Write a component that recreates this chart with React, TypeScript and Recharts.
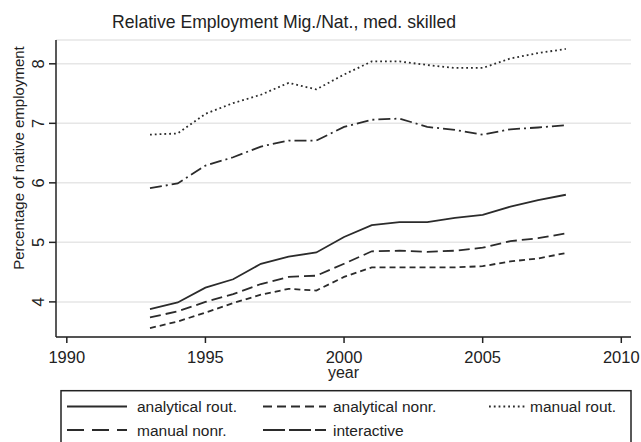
import { CartesianGrid, Label, Line, LineChart, XAxis, YAxis } from "recharts";

const years = [1993, 1994, 1995, 1996, 1997, 1998, 1999, 2000, 2001, 2002, 2003, 2004, 2005, 2006, 2007, 2008];
const analyticalRout = [3.88, 3.99, 4.24, 4.38, 4.64, 4.76, 4.83, 5.09, 5.29, 5.34, 5.34, 5.41, 5.46, 5.6, 5.71, 5.8];
const analyticalNonr = [3.56, 3.67, 3.82, 3.98, 4.12, 4.22, 4.19, 4.42, 4.58, 4.58, 4.58, 4.58, 4.6, 4.68, 4.73, 4.82];
const manualRout = [6.81, 6.83, 7.16, 7.34, 7.48, 7.68, 7.57, 7.82, 8.04, 8.04, 7.98, 7.93, 7.93, 8.09, 8.18, 8.25];
const manualNonr = [3.74, 3.84, 4.0, 4.13, 4.3, 4.42, 4.44, 4.64, 4.85, 4.86, 4.84, 4.86, 4.91, 5.02, 5.07, 5.15];
const interactive = [5.91, 5.99, 6.29, 6.43, 6.61, 6.71, 6.71, 6.94, 7.06, 7.08, 6.94, 6.89, 6.81, 6.9, 6.93, 6.97];

const xTicks = [1990, 1995, 2000, 2005, 2010];
const yTicks = [4, 5, 6, 7, 8];

const seriesNames = ["analytical rout.", "analytical nonr.", "manual rout.", "manual nonr.", "interactive"];
const seriesKeys = ["analyticalRout", "analyticalNonr", "manualRout", "manualNonr", "interactive"];

const data = years.map((year, i) => ({
  year,
  analyticalRout: analyticalRout[i],
  analyticalNonr: analyticalNonr[i],
  manualRout: manualRout[i],
  manualNonr: manualNonr[i],
  interactive: interactive[i],
}));

// line patterns, plot and legend sample
const lineDash = ["", "6 4", "1.8 3", "11 5", "12 4 2 4"];
const legendDash = ["", "9 5", "1.8 3", "17 8", "22 4"];
// legend slots: [sampleX1, sampleX2, textX, rowY]
const legendSlots = [
  [67, 127, 137, 22.5],
  [263, 326, 333, 22.5],
  [489, 525, 530, 22.5],
  [67, 127, 137, 46],
  [263, 326, 333, 46],
];

const font = "'Liberation Sans', Arial, sans-serif";
const ink = "#222";
const lineInk = "#2b2b2b";

const YTick = (props: any) => {
  const { x, y, payload } = props;
  return (
    <text x={x} y={y} transform={`rotate(-90 ${x} ${y})`} textAnchor="middle" fontSize={16.5} fill={ink} fontFamily={font}>
      {payload.value}
    </text>
  );
};

function LegendBox() {
  return (
    <svg width={641} height={58} style={{ position: "absolute", left: 0, top: 384 }}>
      <rect x={61} y={6.7} width={570} height={60} fill="#fff" stroke={ink} strokeWidth={1.5} />
      {seriesNames.map((name, i) => {
        const [x1, x2, tx, y] = legendSlots[i];
        return (
          <g key={name}>
            <line x1={x1} x2={x2} y1={y} y2={y} stroke={lineInk} strokeWidth={1.8} strokeDasharray={legendDash[i] || undefined} />
            <text x={tx} y={y} dominantBaseline="central" fontSize={15.5} fill={ink} fontFamily={font}>
              {name}
            </text>
          </g>
        );
      })}
    </svg>
  );
}

export default function App() {
  return (
    <div style={{ position: "absolute", left: 0, top: 0, width: 641, height: 442, background: "#fff", fontFamily: font }}>
      <svg width={641} height={40} style={{ position: "absolute", left: 0, top: 0 }}>
        <text x={284} y={28} textAnchor="middle" fontSize={19} fill={ink} fontFamily={font} textLength={344} lengthAdjust="spacingAndGlyphs">
          Relative Employment Mig./Nat., med. skilled
        </text>
      </svg>
      <LineChart width={641} height={442} data={data} margin={{ top: 40, right: 10, bottom: 0, left: 0 }} style={{ position: "absolute", left: 0, top: 0 }}>
        <CartesianGrid horizontal vertical={false} stroke="#e6e6e6" strokeWidth={1.5} />
        <XAxis
          dataKey="year"
          type="number"
          domain={[1989.61, 2010.35]}
          ticks={xTicks}
          height={105}
          tickSize={6}
          tickMargin={8}
          allowDataOverflow
          stroke={ink}
          strokeWidth={1.5}
          tick={{ fontSize: 16.5, fill: ink, fontFamily: font }}
        >
          <Label
            content={(p: any) => (
              <text x={p.viewBox.x + p.viewBox.width / 2} y={378} textAnchor="middle" fontSize={16} fill={ink} fontFamily={font}>
                year
              </text>
            )}
          />
        </XAxis>
        <YAxis
          type="number"
          domain={[3.41, 8.4]}
          ticks={yTicks}
          width={56}
          tickSize={7}
          tickMargin={5}
          allowDataOverflow
          stroke={ink}
          strokeWidth={1.5}
          tick={<YTick />}
        >
          <Label
            content={() => (
              <text x={24} y={158} transform="rotate(-90 24 158)" textAnchor="middle" fontSize={15} fill={ink} fontFamily={font}>
                Percentage of native employment
              </text>
            )}
          />
        </YAxis>
        {seriesKeys.map((key, i) => (
          <Line
            key={key}
            dataKey={key}
            name={seriesNames[i]}
            type="linear"
            stroke={lineInk}
            strokeWidth={1.8}
            strokeDasharray={lineDash[i] || undefined}
            dot={false}
            isAnimationActive={false}
          />
        ))}
      </LineChart>
      <LegendBox />
    </div>
  );
}
